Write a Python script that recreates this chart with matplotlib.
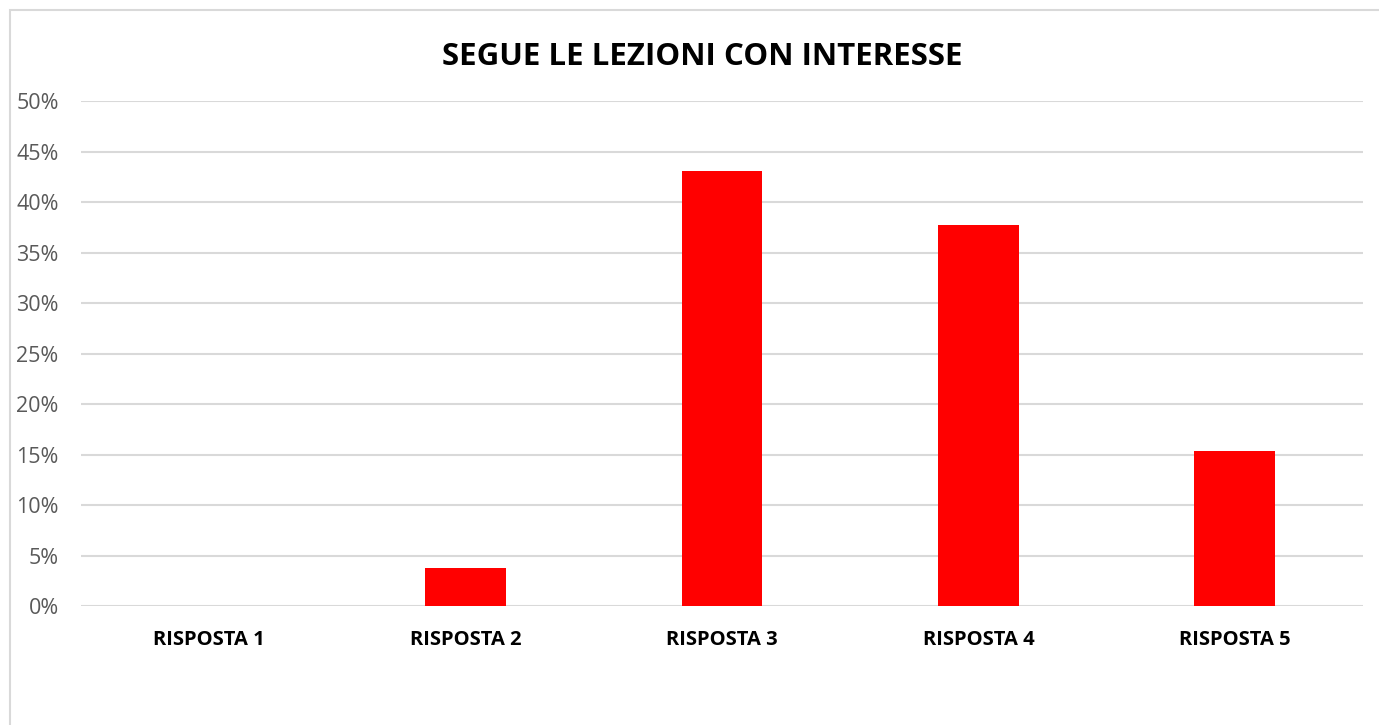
import matplotlib

matplotlib.use("Agg")
import matplotlib.pyplot as plt
from matplotlib.patches import Rectangle
from matplotlib.ticker import MultipleLocator, PercentFormatter

categories = ["RISPOSTA 1", "RISPOSTA 2", "RISPOSTA 3", "RISPOSTA 4", "RISPOSTA 5"]
values = [0.0, 3.8, 43.1, 37.7, 15.4]
title = "SEGUE LE LEZIONI CON INTERESSE"

plt.rcParams["font.family"] = ["Open Sans", "DejaVu Sans"]

fig = plt.figure(figsize=(13.79, 7.25), dpi=100)
ax = fig.add_axes([0.0587, 0.164, 0.9297, 0.6966])

# chart border (like the Excel chart area outline)
fig.patches.append(
    Rectangle((10 / 1379, -0.05), 1.1, 1 - 10 / 725 + 0.05,
              transform=fig.transFigure, fill=False,
              edgecolor="#d9d9d9", linewidth=1.5)
)

x = range(len(categories))
ax.bar(x, values, width=0.315, color="#ff0000", zorder=3)

ax.set_xlim(-0.5, len(categories) - 0.5)
ax.set_ylim(0, 50)
ax.yaxis.set_major_locator(MultipleLocator(5))
ax.yaxis.set_major_formatter(PercentFormatter(decimals=0))
ax.grid(axis="y", color="#d9d9d9", linewidth=1.5, zorder=0)
ax.set_axisbelow(True)

for side in ("top", "right", "left", "bottom"):
    ax.spines[side].set_visible(False)

ax.set_xticks(list(x))
ax.set_xticklabels(categories, fontsize=14.5, fontweight="bold", color="black")
ax.tick_params(axis="x", length=0, pad=17)
ax.tick_params(axis="y", length=0, pad=16, labelsize=15.5, labelcolor="#595959")

fig.text(0.509, 0.921, title, ha="center", va="center",
         fontsize=22.5, fontweight="bold", color="black")

fig.savefig("out.png", dpi=100, facecolor="white")
